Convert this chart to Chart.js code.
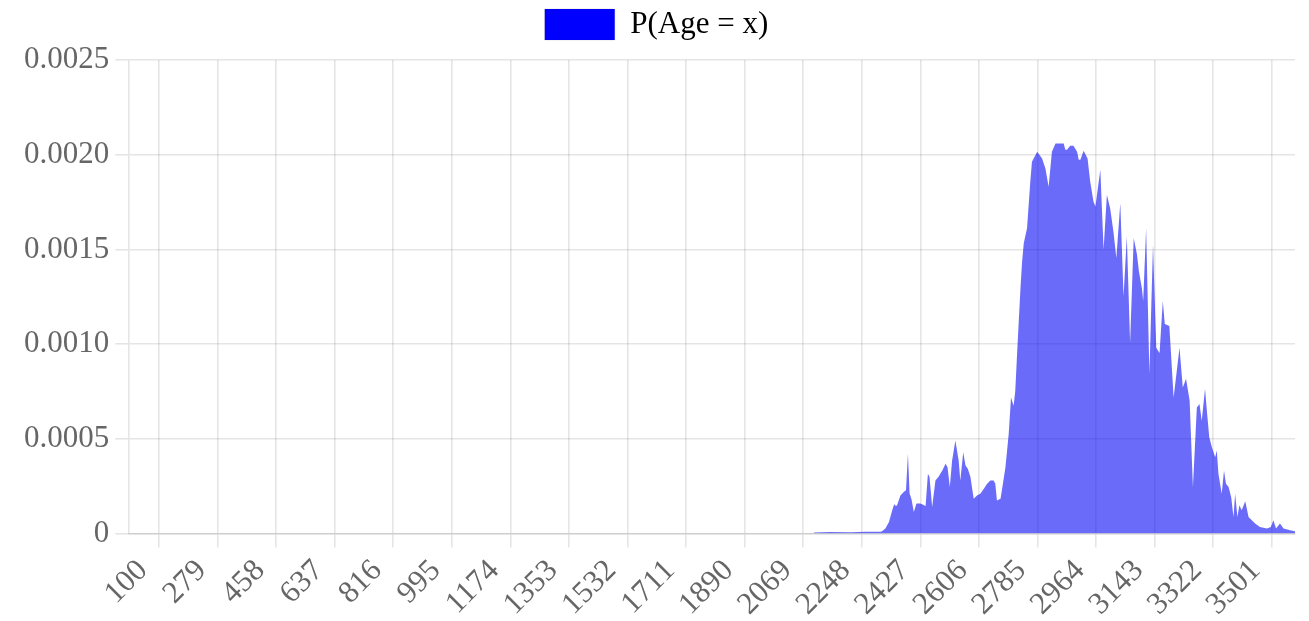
<!DOCTYPE html>
<html>
<head>
<meta charset="utf-8">
<title>P(Age = x)</title>
<script src="https://cdn.jsdelivr.net/npm/chart.js@4.4.0/dist/chart.umd.min.js"></script>
<style>
  html, body { margin: 0; padding: 0; background: #fff; }
  #wrap { position: relative; width: 1309px; height: 621px; }
</style>
</head>
<body>
<div id="wrap"><canvas id="age-chart"></canvas></div>
<script>
// Ages (x) and probabilities (y)
const ages = [
  2101, 2150, 2214, 2260, 2305, 2310, 2320, 2331, 2341, 2346, 2349, 2352, 2356, 2366, 2376, 2383,
  2389, 2394, 2400, 2407, 2415, 2427, 2437, 2443, 2450, 2455, 2463, 2473, 2482, 2494, 2504, 2510,
  2517, 2524, 2534, 2544, 2549, 2558, 2565, 2572, 2580, 2590, 2600, 2610, 2621, 2631, 2641, 2651,
  2656, 2661, 2672, 2677, 2687, 2697, 2704, 2712, 2717, 2722, 2733, 2738, 2743, 2753, 2763, 2768,
  2784, 2799, 2809, 2819, 2829, 2840, 2855, 2865, 2870, 2875, 2885, 2895, 2906, 2911, 2916, 2926,
  2938, 2946, 2956, 2962, 2977, 2987, 2997, 3007, 3017, 3026, 3038, 3048, 3058, 3068, 3079, 3089,
  3095, 3104, 3108, 3117, 3127, 3138, 3148, 3158, 3168, 3174, 3188, 3201, 3219, 3229, 3239, 3250,
  3260, 3272, 3280, 3287, 3297, 3304, 3310, 3318, 3328, 3333, 3338, 3348, 3355, 3361, 3369, 3377,
  3384, 3389, 3396, 3402, 3409, 3420, 3430, 3440, 3450, 3465, 3486, 3498, 3506, 3514, 3526, 3537,
  3557, 3572
];
const probs = [
  0.000005, 0.000008, 0.000007, 0.000009, 0.000010, 0.000012, 0.000026, 0.000061, 0.000123, 0.000149, 0.000154, 0.000144, 0.000150, 0.000201, 0.000219, 0.000228,
  0.000421, 0.000212, 0.000180, 0.000114, 0.000158, 0.000158, 0.000150, 0.000145, 0.000315, 0.000298, 0.000140, 0.000280, 0.000298, 0.000333, 0.000368, 0.000350,
  0.000245, 0.000385, 0.000491, 0.000385, 0.000280, 0.000429, 0.000359, 0.000342, 0.000298, 0.000184, 0.000201, 0.000210, 0.000237, 0.000263, 0.000280, 0.000280,
  0.000263, 0.000175, 0.000184, 0.000238, 0.000350, 0.000527, 0.000718, 0.000675, 0.000753, 0.000929, 0.001297, 0.001437, 0.001533, 0.001612, 0.001858, 0.001963,
  0.002015, 0.001980, 0.001928, 0.001831, 0.002015, 0.002059, 0.002059, 0.002059, 0.002026, 0.002026, 0.002047, 0.002047, 0.002015, 0.001973, 0.001973, 0.002021,
  0.001980, 0.001858, 0.001753, 0.001726, 0.001921, 0.001500, 0.001789, 0.001717, 0.001595, 0.001454, 0.001744, 0.001253, 0.001568, 0.001007, 0.001560, 0.001473,
  0.001384, 0.001295, 0.001227, 0.001612, 0.000843, 0.001526, 0.000981, 0.000953, 0.001227, 0.001106, 0.001095, 0.000718, 0.000981, 0.000771, 0.000817, 0.000701,
  0.000245, 0.000666, 0.000684, 0.000596, 0.000764, 0.000622, 0.000508, 0.000455, 0.000403, 0.000438, 0.000315, 0.000210, 0.000333, 0.000263, 0.000245, 0.000192,
  0.000087, 0.000210, 0.000087, 0.000149, 0.000123, 0.000171, 0.000087, 0.000070, 0.000053, 0.000035, 0.000026, 0.000035, 0.000070, 0.000026, 0.000053, 0.000026,
  0.000017, 0.000012
];

// Tick labels shown on the x axis
const xTickLabels = [100, 279, 458, 637, 816, 995, 1174, 1353, 1532, 1711, 1890, 2069, 2248, 2427, 2606, 2785, 2964, 3143, 3322, 3501];
const xMin = 9;
const xMax = 3572;
const yMax = 0.0025;
const yStep = 0.0005;

const seriesLabel = 'P(Age = x)';

Chart.defaults.font.family = "'Liberation Serif', 'Times New Roman', serif";
Chart.defaults.font.size = 31;
Chart.defaults.color = '#666';

const gridStyle = { color: 'rgba(0,0,0,0.1)', lineWidth: 1.6, tickLength: 14 };

// a bit more room under the legend
const legendGap = {
  id: 'legendGap',
  beforeInit(chart) {
    const fit = chart.legend.fit;
    chart.legend.fit = function () {
      fit.bind(chart.legend)();
      this.height += 10;
    };
  }
};

const ctx = document.getElementById('age-chart').getContext('2d');
new Chart(ctx, {
  type: 'line',
  data: {
    datasets: [{
      label: seriesLabel,
      data: ages.map((a, i) => ({ x: a, y: probs[i] })),
      backgroundColor: 'rgba(0, 0, 245, 0.58)',
      borderColor: 'transparent',
      borderWidth: 0,
      pointRadius: 0,
      fill: 'origin',
      tension: 0
    }]
  },
  plugins: [legendGap],
  options: {
    responsive: true,
    maintainAspectRatio: false,
    animation: false,
    layout: { padding: { left: 18, right: 14, top: 0, bottom: -7 } },
    plugins: {
      legend: {
        labels: {
          boxWidth: 70,
          boxHeight: 31,
          padding: 9,
          generateLabels: () => [{
            text: seriesLabel,
            fillStyle: 'blue',
            strokeStyle: 'rgba(0,0,0,0.1)',
            lineWidth: 1,
            hidden: false,
            datasetIndex: 0
          }]
        }
      },
      tooltip: { enabled: false }
    },
    scales: {
      x: {
        type: 'linear',
        min: xMin,
        max: xMax,
        afterBuildTicks: axis => { axis.ticks = xTickLabels.map(v => ({ value: v })); },
        ticks: {
          autoSkip: false,
          minRotation: 45,
          maxRotation: 45,
          padding: 9,
          labelOffset: -16,
          font: { lineHeight: 0.85 },
          callback: v => String(v)
        },
        grid: gridStyle,
        border: { color: 'rgba(0,0,0,0.1)', width: 1.6 }
      },
      y: {
        min: 0,
        max: yMax,
        ticks: {
          stepSize: yStep,
          padding: 6,
          callback: v => (v === 0 ? '0' : v.toFixed(4))
        },
        grid: gridStyle,
        border: { color: 'rgba(0,0,0,0.1)', width: 1.6 }
      }
    }
  }
});
</script>
</body>
</html>
